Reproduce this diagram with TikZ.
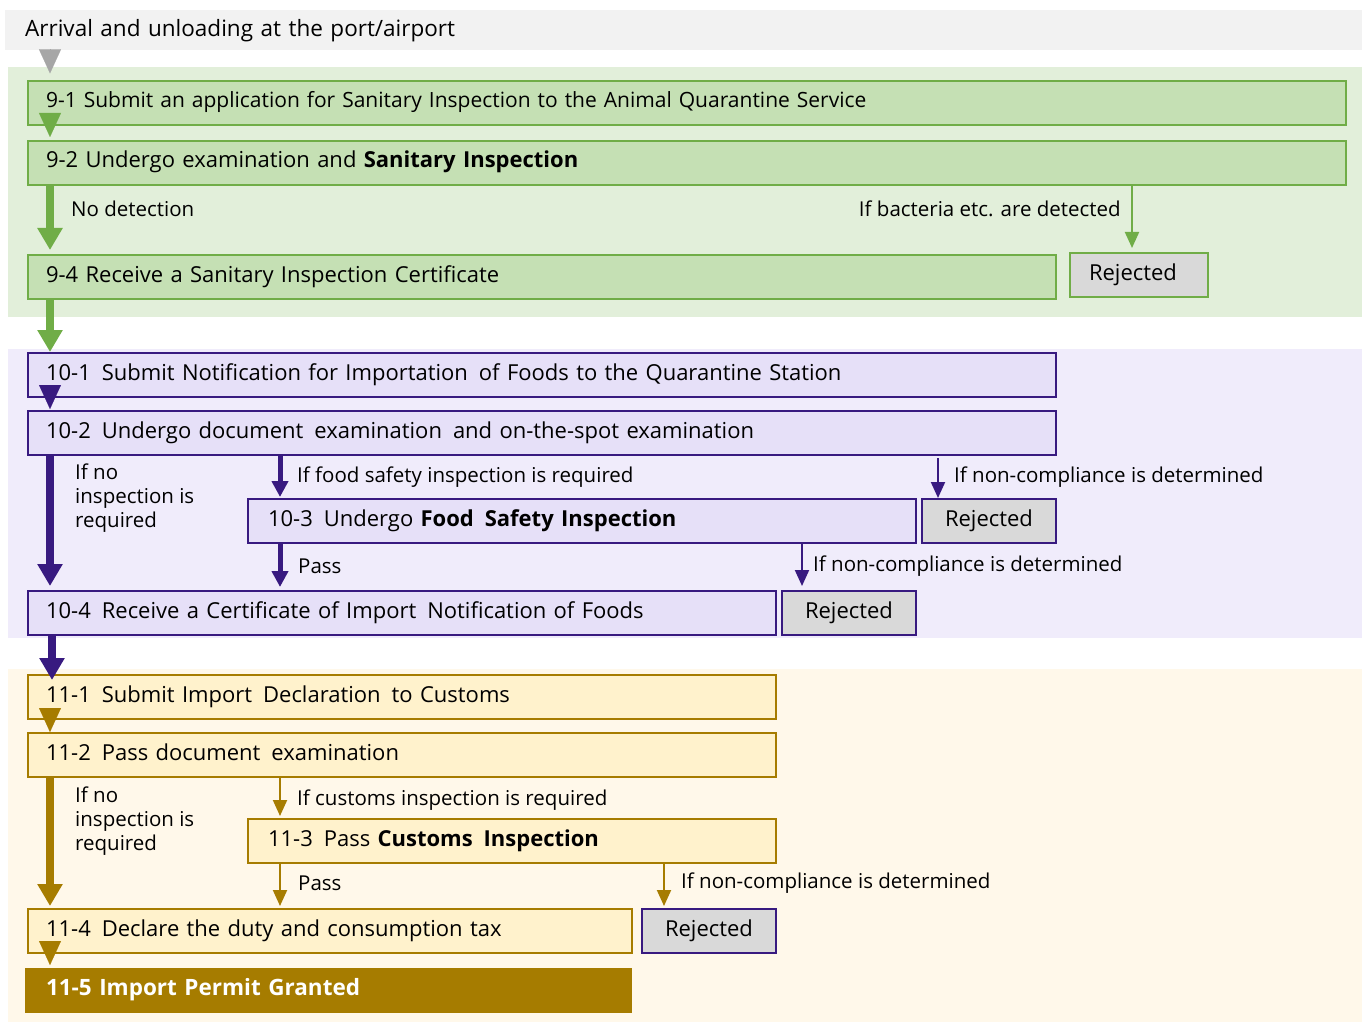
\documentclass[tikz,border=0pt]{standalone}
\usepackage{fontspec}
\setmainfont{Open Sans}
\usetikzlibrary{arrows.meta,calc}
\definecolor{grayband}{HTML}{F2F2F2}
\definecolor{grayarrow}{HTML}{A6A6A6}
\definecolor{gline}{HTML}{70AD47}
\definecolor{gfill}{HTML}{C5E0B4}
\definecolor{gband}{HTML}{E2EFDA}
\definecolor{pline}{HTML}{381A80}
\definecolor{pfill}{HTML}{E6E0F8}
\definecolor{pband}{HTML}{F0ECFB}
\definecolor{yline}{HTML}{A67C00}
\definecolor{yfill}{HTML}{FFF2CC}
\definecolor{yband}{HTML}{FFF8EA}
\definecolor{rfill}{HTML}{D9D9D9}
\newcommand{\mainsize}{\fontsize{22}{24}\selectfont}
\newcommand{\labsize}{\fontsize{20.5}{24}\selectfont}
\begin{document}
\begin{tikzpicture}[x=1pt,y=-1pt,
  box/.style={draw, line width=2pt, anchor=north west, inner xsep=18pt, inner ysep=0pt,
    minimum height=44pt, align=left, font=\mainsize, text height=15pt, text depth=5pt},
  rej/.style={draw, line width=2pt, anchor=north west, inner sep=0pt, fill=rfill,
    minimum height=44pt, align=center, font=\mainsize, text height=15pt, text depth=5pt},
  lab/.style={font=\labsize, inner sep=0pt, align=left, anchor=west},
  bigarrow/.style={line width=8pt, -{Triangle[width=24pt,length=22pt]}},
  headarrow/.style={line width=0.1pt, -{Triangle[width=22pt,length=24pt]}},
  midarrow/.style={line width=5pt, -{Triangle[width=16pt,length=16pt]}},
  thinarrow/.style={line width=2pt, -{Triangle[width=14pt,length=16pt]}},
]
\useasboundingbox (0,0) rectangle (1364,1024);

% bands
\node[fill=grayband, anchor=north west, minimum width=1357pt, minimum height=40pt, inner xsep=20pt,
  text width=1317pt, align=left, font=\fontsize{22.5}{24}\selectfont, inner ysep=0pt] (arrival) at (5,10) {Arrival and unloading at the port/airport};
\node[fill=gband, anchor=north west, minimum width=1354pt, minimum height=250pt, inner sep=0pt] (bandg) at (8,67) {};
\node[fill=pband, anchor=north west, minimum width=1354pt, minimum height=289pt, inner sep=0pt] (bandp) at (8,349) {};
\node[fill=yband, anchor=north west, minimum width=1354pt, minimum height=353pt, inner sep=0pt] (bandy) at (8,669) {};

% green section
\node[box, draw=gline, fill=gfill, minimum width=1318pt, text width=1282pt, font=\fontsize{21}{24}\selectfont] (n91) at (27,80)
  {9-1 Submit an application for Sanitary Inspection to the Animal Quarantine Service};
\node[box, draw=gline, fill=gfill, minimum width=1318pt, text width=1282pt] (n92) at (27,140)
  {9-2 Undergo examination and \textbf{Sanitary Inspection}};
\node[box, draw=gline, fill=gfill, minimum width=1028pt, text width=992pt] (n94) at (27,254)
  {9-4 Receive a Sanitary Inspection Certificate};
\node[rej, draw=gline, minimum width=138pt] (rej1) at (1069,252) {Rejected\hspace{12pt}};

% purple section
\node[box, draw=pline, fill=pfill, minimum width=1028pt, text width=992pt] (n101) at (27,352)
  {10-1\, Submit Notification for Importation\, of Foods to the Quarantine Station};
\node[box, draw=pline, fill=pfill, minimum width=1028pt, text width=992pt] (n102) at (27,410)
  {10-2\, Undergo document\, examination\, and on-the-spot examination};
\node[box, draw=pline, fill=pfill, minimum width=668pt, text width=628pt, inner xsep=20pt] (n103) at (247,498)
  {10-3\, Undergo \textbf{Food\, Safety Inspection}};
\node[rej, draw=pline, minimum width=134pt] (rej2) at (921,498) {Rejected};
\node[box, draw=pline, fill=pfill, minimum width=748pt, text width=712pt] (n104) at (27,590)
  {10-4\, Receive a Certificate of Import\, Notification of Foods};
\node[rej, draw=pline, minimum width=134pt] (rej3) at (781,590) {Rejected};

% yellow section
\node[box, draw=yline, fill=yfill, minimum width=748pt, text width=712pt] (n111) at (27,674)
  {11-1\, Submit Import\, Declaration\, to Customs};
\node[box, draw=yline, fill=yfill, minimum width=748pt, text width=712pt] (n112) at (27,732)
  {11-2\, Pass document\, examination};
\node[box, draw=yline, fill=yfill, minimum width=528pt, text width=488pt, inner xsep=20pt] (n113) at (247,818)
  {11-3\, Pass \textbf{Customs\, Inspection}};
\node[box, draw=yline, fill=yfill, minimum width=604pt, text width=568pt] (n114) at (27,908)
  {11-4\, Declare the duty and consumption tax};
\node[rej, draw=pline, minimum width=134pt] (rej4) at (641,908) {Rejected};
\node[box, draw=none, fill=yline, text=white, minimum width=607pt, text width=565pt, inner xsep=21pt, minimum height=45pt,
  font=\fontsize{22.5}{24}\selectfont] (n115) at (24,967)
  {\textbf{11-5 Import Permit Granted}};

% labels
\node[lab] (l1) at (71,209) {No detection};
\node[lab, anchor=east] (l2) at (1121,209) {If bacteria etc. are detected};
\node[lab, anchor=north west] (l3) at (75,464) {If no\\inspection is\\required};
\node[lab] (l4) at (297,477) {If food safety inspection is required};
\node[lab] (l5) at (954,477) {If non-compliance is determined};
\node[lab] (l6) at (298,566) {Pass};
\node[lab] (l7) at (813,566) {If non-compliance is determined};
\node[lab, anchor=north west] (l8) at (75,787) {If no\\inspection is\\required};
\node[lab] (l9) at (297,800) {If customs inspection is required};
\node[lab] (l10) at (298,883) {Pass};
\node[lab] (l11) at (681,883) {If non-compliance is determined};

% arrows
\draw[headarrow, grayarrow] ($(arrival.south west)+(45,0)$) -- ($(arrival.south west)+(45,23)$);
\draw[headarrow, gline] ($(n91.south west)+(23,-12)$) -- ($(n92.north west)+(23,-3)$);
\draw[bigarrow, gline] ($(n92.south west)+(23,0)$) -- ($(n94.north west)+(23,-4)$);
\coordinate (t1) at ($(rej1.north)+(-7,-4)$);
\draw[thinarrow, gline] (n92.south -| t1) -- (t1);
\draw[bigarrow, gline] ($(n94.south west)+(23,0)$) -- ($(n101.north west)+(23,0)$);

\draw[headarrow, pline] ($(n101.south west)+(23,-6)$) -- ($(n102.north west)+(23,-1)$);
\draw[bigarrow, pline] ($(n102.south west)+(23,0)$) -- ($(n104.north west)+(23,-4)$);
\coordinate (t2) at ($(n103.north west)+(33,-1)$);
\draw[midarrow, pline] (n102.south -| t2) -- (t2);
\coordinate (t3) at ($(rej2.north west)+(17,0)$);
\draw[thinarrow, pline] ($(n102.south -| t3)+(0,2)$) -- (t3);
\coordinate (t4) at ($(n104.north west)+(253,-3)$);
\draw[midarrow, pline] (n103.south -| t4) -- (t4);
\coordinate (t5) at ($(rej3.north west)+(21,-4)$);
\draw[thinarrow, pline] (n103.south -| t5) -- (t5);
\draw[bigarrow, pline] ($(n104.south west)+(25,0)$) -- ($(n111.north west)+(25,6)$);

\draw[headarrow, yline] ($(n111.south west)+(23,-10)$) -- ($(n112.north west)+(23,0)$);
\draw[bigarrow, yline] ($(n112.south west)+(23,0)$) -- ($(n114.north west)+(23,-2)$);
\coordinate (t6) at ($(n113.north west)+(33,-2)$);
\draw[thinarrow, yline] (n112.south -| t6) -- (t6);
\coordinate (t7) at ($(n114.north west)+(253,-2)$);
\draw[thinarrow, yline] (n113.south -| t7) -- (t7);
\coordinate (t8) at ($(rej4.north west)+(23,-2)$);
\draw[thinarrow, yline] (n113.south -| t8) -- (t8);
\draw[headarrow, yline] ($(n114.south west)+(23,-12)$) -- ($(n115.north west)+(26,-2)$);
\end{tikzpicture}
\end{document}
